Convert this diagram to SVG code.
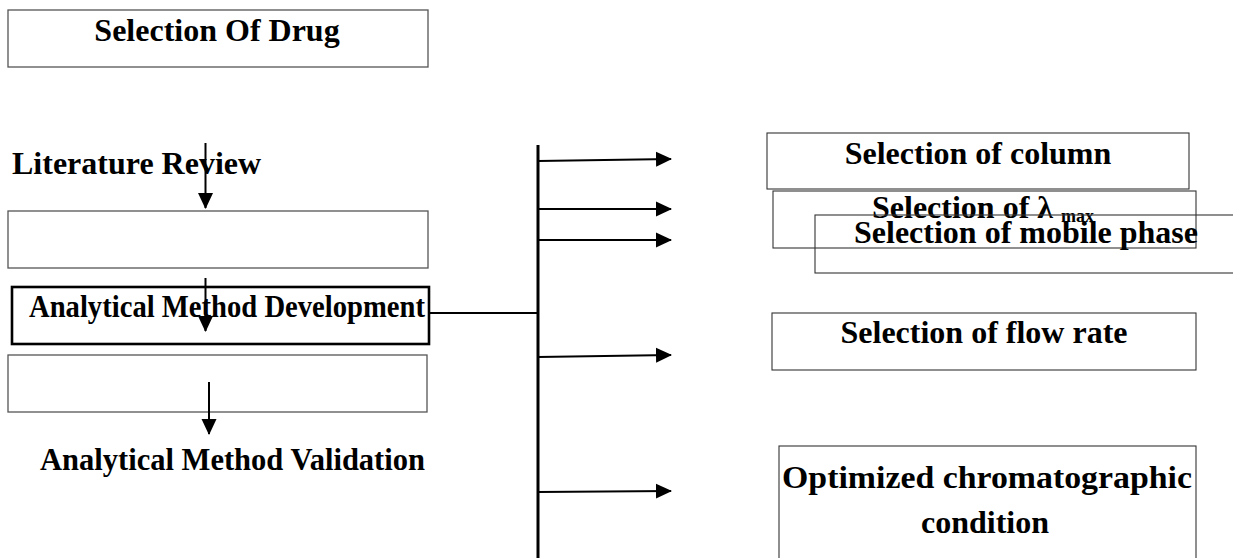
<svg xmlns="http://www.w3.org/2000/svg" width="1233" height="558" viewBox="0 0 1233 558">
<defs>
<style>
.box{fill:none;stroke:#555;stroke-width:1.3}
.rbox{fill:none;stroke:#333;stroke-width:1.1}
.thick{fill:none;stroke:#000;stroke-width:2.6}
.t{font-family:"Liberation Serif","Times New Roman",serif;font-weight:bold;font-size:32px;fill:#000}
.ln{stroke:#000;stroke-width:2;fill:none}
.vl{stroke:#000;stroke-width:3;fill:none}
</style>
<marker id="ah" markerWidth="16" markerHeight="16" viewBox="0 0 16 16" refX="15" refY="8" orient="auto" markerUnits="userSpaceOnUse">
<path d="M0,0.5 L16,8 L0,15.5 Z" fill="#000"/>
</marker>
</defs>
<rect width="1233" height="558" fill="#fff"/>
<g id="n-drug"><rect class="box" x="8" y="10" width="420" height="57"/><text class="t" x="217" y="41" font-size="31" text-anchor="middle">Selection Of Drug</text></g>
<g id="n-lit"><text class="t" x="12" y="174" font-size="31">Literature Review</text></g>
<g id="n-empty1"><rect class="box" x="8" y="211" width="420" height="57"/></g>
<g id="n-amd"><rect class="thick" x="12" y="287" width="417" height="57"/><text class="t" x="29" y="317" font-size="30" textLength="396" lengthAdjust="spacingAndGlyphs">Analytical Method Development</text></g>
<g id="n-empty2"><rect class="box" x="8" y="355" width="419" height="57"/></g>
<g id="n-amv"><text class="t" x="40" y="470" textLength="385" lengthAdjust="spacingAndGlyphs">Analytical Method Validation</text></g>
<g id="n-col"><rect class="rbox" x="767" y="133" width="422" height="56"/><text class="t" x="978" y="164" text-anchor="middle">Selection of column</text></g>
<g id="n-lambda"><rect class="rbox" x="773" y="191" width="423" height="57"/><text class="t" x="872" y="218">Selection of λ <tspan font-size="18" dy="4">max</tspan></text></g>
<g id="n-mobile"><rect class="rbox" x="815" y="215" width="440" height="58"/><text class="t" x="854" y="243">Selection of mobile phase</text></g>
<g id="n-flow"><rect class="rbox" x="772" y="313" width="424" height="57"/><text class="t" x="984" y="343" text-anchor="middle">Selection of flow rate</text></g>
<g id="n-opt"><rect class="rbox" x="779" y="446" width="417" height="130"/><text class="t" x="782" y="488" font-size="34" textLength="410" lengthAdjust="spacingAndGlyphs">Optimized chromatographic</text><text class="t" x="985" y="533" font-size="34" text-anchor="middle">condition</text></g>
<g id="connectors">
<line class="ln" x1="205.5" y1="143" x2="205.5" y2="208" marker-end="url(#ah)"/>
<line class="ln" x1="205.5" y1="278" x2="205.5" y2="331" marker-end="url(#ah)"/>
<line class="ln" x1="209" y1="382" x2="209" y2="434" marker-end="url(#ah)"/>
<line class="ln" x1="429" y1="313" x2="538" y2="313"/>
<line class="vl" x1="538" y1="145" x2="538" y2="558"/>
<line class="ln" x1="538" y1="161" x2="671" y2="159" marker-end="url(#ah)"/>
<line class="ln" x1="538" y1="209" x2="671" y2="209" marker-end="url(#ah)"/>
<line class="ln" x1="538" y1="240" x2="671" y2="240" marker-end="url(#ah)"/>
<line class="ln" x1="538" y1="357" x2="671" y2="355" marker-end="url(#ah)"/>
<line class="ln" x1="538" y1="492" x2="671" y2="491" marker-end="url(#ah)"/>
</g>
</svg>
